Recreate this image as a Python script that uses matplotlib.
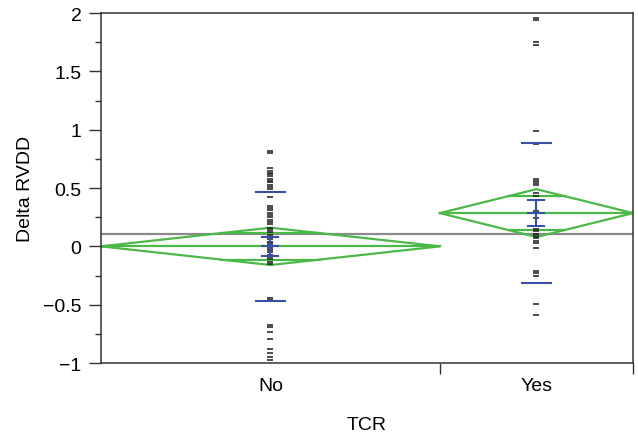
import numpy as np
import matplotlib.pyplot as plt
from matplotlib.ticker import MultipleLocator, FixedLocator, NullFormatter

plt.rcParams['font.family'] = ['Liberation Sans', 'DejaVu Sans']

groups = ['No', 'Yes']
# share of x axis each group takes (proportional to group size)
group_width = [0.637, 0.363]

no_vals = [0.82, 0.80,
           0.67, 0.65, 0.63, 0.62, 0.60, 0.58, 0.56, 0.55, 0.53, 0.51, 0.49, 0.47,
           0.42,
           0.35, 0.33, 0.31, 0.29, 0.27, 0.25, 0.23, 0.21, 0.19,
           0.16, 0.14, 0.12, 0.10, 0.08, 0.06, 0.04, 0.03, 0.01, -0.01, -0.03,
           -0.05, -0.07, -0.09, -0.11, -0.13, -0.15,
           -0.44, -0.46, -0.67, -0.69, -0.73, -0.79, -0.88, -0.91, -0.95, -0.97]
yes_vals = [1.96, 1.94, 1.75, 1.73, 0.985, 0.877,
            0.58, 0.56, 0.545, 0.53, 0.46, 0.43, 0.305, 0.24,
            0.15, 0.13, 0.11, 0.09, 0.07, 0.05, 0.03, -0.01,
            -0.21, -0.23, -0.25, -0.49, -0.59]

means = [0.0, 0.285]
ci_half = [0.16, 0.205]
std_dev = [0.465, 0.597]
std_err = [0.08, 0.11]
grand_mean = 0.103

green = '#4cb848'
blue = '#3b4fa3'

fig = plt.figure(figsize=(6.38, 4.39), dpi=100)
ax = fig.add_axes([0.1583, 0.1708, 0.8339, 0.7973])

ax.axhline(grand_mean, color='#8a8a8a', lw=1.6, zorder=1)

edges = np.concatenate([[0], np.cumsum(group_width)])
centers = (edges[:-1] + edges[1:]) / 2

for i, vals in enumerate([no_vals, yes_vals]):
    left, right, c = edges[i], edges[i + 1], centers[i]
    m, h = means[i], ci_half[i]
    # means diamond
    ax.plot([left, c, right, c, left], [m, m + h, m, m - h, m], color=green, lw=1.6, zorder=2)
    ax.plot([left, right], [m, m], color=green, lw=1.6, zorder=2)
    # overlap marks
    ov = h * np.sqrt(2) / 2
    half = (right - left) / 2 * (1 - ov / h)
    for s in (1, -1):
        ax.plot([c - half, c + half], [m + s * ov, m + s * ov], color=green, lw=1.6, zorder=2)
    # points
    ax.plot([c] * len(vals), vals, ls='none', marker='_', ms=4.5, mew=1.1,
            color='#1a1a1a', zorder=3)
    # std dev lines
    sw = 0.0275
    for s in (1, -1):
        ax.plot([c - sw, c + sw], [m + s * std_dev[i]] * 2, color=blue, lw=1.5, zorder=4)
    # std error bars
    cw = 0.015
    se = std_err[i]
    ax.plot([c, c], [m - se, m + se], color=blue, lw=1.5, zorder=4)
    for y in (m - se, m, m + se):
        ax.plot([c - cw, c + cw], [y, y], color=blue, lw=1.5, zorder=4)

ax.set_xlim(0, 1)
ax.set_ylim(-1, 2)

yt = np.arange(-1, 2.01, 0.5)
ax.set_yticks(yt)
ax.set_yticklabels(['{:g}'.format(v).replace('-', '\u2212') for v in yt])
ax.yaxis.set_minor_locator(MultipleLocator(0.25))
ax.tick_params(axis='y', which='major', length=9, width=1, labelsize=14, pad=5, color='#333333')
ax.tick_params(axis='y', which='minor', length=4, width=1, color='#333333')

ax.xaxis.set_major_locator(FixedLocator(edges[1:]))
ax.xaxis.set_major_formatter(NullFormatter())
ax.xaxis.set_minor_locator(FixedLocator(centers))
ax.set_xticklabels(groups, minor=True)
ax.tick_params(axis='x', which='major', length=8, width=1, color='#333333')
ax.tick_params(axis='x', which='minor', length=0, labelsize=14, pad=10)

for sp in ax.spines.values():
    sp.set_color('#333333')
    sp.set_linewidth(1.1)

ax.set_ylabel('Delta RVDD', fontsize=14)
ax.yaxis.set_label_coords(-0.125, 0.5)
ax.set_xlabel('TCR', fontsize=14)
ax.xaxis.set_label_coords(0.5, -0.15)
ax.xaxis.label.set_va('top')

fig.savefig('out.png', dpi=100)
